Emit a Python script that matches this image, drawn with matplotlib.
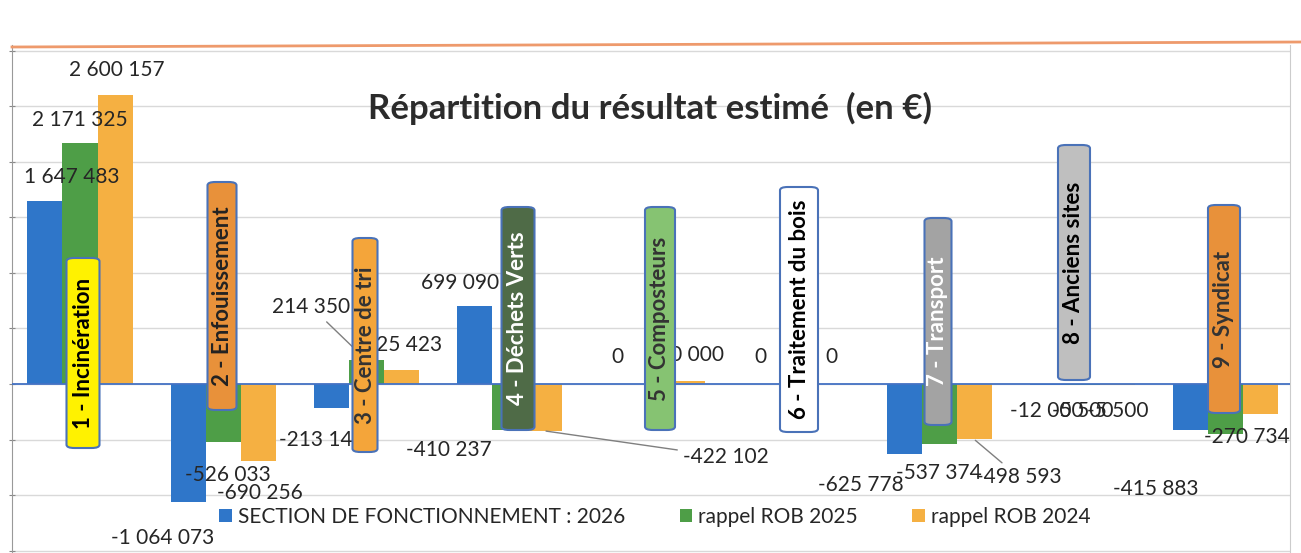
import matplotlib
matplotlib.use("Agg")
import matplotlib.pyplot as plt
import numpy as np
from matplotlib.patches import FancyBboxPatch
from matplotlib.lines import Line2D

plt.rcParams['font.family'] = ['Lato', 'DejaVu Sans']

categories = ["1 - Incinération", "2 - Enfouissement", "3 - Centre de tri",
              "4 - Déchets Verts", "5 - Composteurs", "6 - Traitement du bois",
              "7 - Transport", "8 - Anciens sites", "9 - Syndicat"]
series_names = ["SECTION DE FONCTIONNEMENT : 2026", "rappel ROB 2025", "rappel ROB 2024"]
val_2026 = [1647483, -1064073, -213140, 699090, 0, 0, -625778, -12000, -415883]
val_2025 = [2171325, -526033, 214350, -410237, 0, 0, -537374, -5500, -450000]
val_2024 = [2600157, -690256, 125423, -422102, 30000, 0, -498593, -5500, -270734]

colors = ["#2F76C9", "#4E9E47", "#F5B042"]

# label offsets in pixels (dx, dy), None = no label
off_2026 = [(27, 24), (-26, -36), (-9, -32), (-14, 23), (0, 27), (0, 27), (-43, -31), (0, -26), (-35, -59)]
off_2025 = [(0, 23), (5, -33), (-55, 53), (-61, -20), (0, 27), (0, 27), (0, -29), (0, -26), None]
off_2024 = [(2, 25), (2, -32), (2, 25), (181, -26), (3, 26), (0, 27), (45, -38), (0, -26), (-14, -23)]
leaders = {(2, 1), (3, 2), (6, 2)}

# category boxes (pixel layout)
box_x = [83, 222, 365, 518, 660, 799, 938, 1074, 1224]
box_top = [258, 182, 238, 207, 207, 187, 218, 145, 205]
box_bot = [448, 410, 452, 430, 430, 432, 425, 380, 413]
box_w = [33, 29, 25, 33, 30, 38, 27, 32, 32]
box_fc = ['#FFF200', '#E8913A', '#F4A53A', '#4F6B47', '#86C372', '#FFFFFF', '#A3A3A3', '#BFBFBF', '#E8913A']
box_tc = ['black', '#222222', '#333333', 'white', '#333333', 'black', 'white', 'black', '#333333']

W, H = 1301, 553
fig = plt.figure(figsize=(W / 100, H / 100), dpi=100)
ax = fig.add_axes([12 / W, 0, (1290 - 12) / W, (553 - 45) / H])

x = np.arange(len(categories))
bw = 0.245
series = [val_2026, val_2025, val_2024]
offsets = [off_2026, off_2025, off_2024]
bars = []
for j, vals in enumerate(series):
    b = ax.bar(x + (j - 1) * bw, vals, bw, color=colors[j], label=series_names[j], zorder=2)
    bars.append(b)
    for i, v in enumerate(vals):
        off = offsets[j][i]
        if off is None:
            continue
        txt = f"{v:,}".replace(",", " ")
        kw = {}
        if (i, j) in leaders:
            kw['arrowprops'] = dict(arrowstyle='-', color='#7F7F7F', lw=1, shrinkA=2, shrinkB=1)
        ax.annotate(txt, (x[i] + (j - 1) * bw, v), xytext=off, textcoords='offset pixels',
                    ha='center', va='center', fontsize=15, color='#262626', zorder=4, **kw)

ax.set_xlim(-0.475, 8.45)
ax.set_ylim(-1521000, 3051000)
ax.set_yticks(np.arange(-1500000, 3000001, 500000))
ax.set_yticklabels([])
ax.set_xticks([])
ax.grid(axis='y', color='#D9D9D9', lw=1, zorder=0)
ax.axhline(0, color='#4472C4', lw=1.3, zorder=3)
ax.tick_params(axis='y', length=4, direction='inout', color='#888888')
for s in ['top', 'bottom']:
    ax.spines[s].set_visible(False)
ax.spines['left'].set_color('#999999')
ax.spines['right'].set_color('#CCCCCC')

# category boxes
for i, name in enumerate(categories):
    x0 = (box_x[i] - box_w[i] / 2) / W
    y0 = 1 - box_bot[i] / H
    patch = FancyBboxPatch((x0, y0), box_w[i] / W, (box_bot[i] - box_top[i]) / H,
                           boxstyle="round,pad=0,rounding_size=0.006",
                           transform=fig.transFigure, fc=box_fc[i], ec='#4A72B8', lw=1.5, zorder=5)
    fig.add_artist(patch)
    fig.text(box_x[i] / W, 1 - (box_top[i] + box_bot[i]) / 2 / H, name, rotation=90,
             ha='center', va='center', fontsize=16, fontweight='bold', color=box_tc[i], zorder=6)

fig.text(650 / W, 1 - 108 / H, "Répartition du résultat estimé  (en €)", ha='center', va='center',
         fontsize=25, fontweight='bold', color='#2B2B2B')

# top orange rule
fig.add_artist(Line2D([12 / W, 1], [1 - 47 / H, 1 - 42 / H], transform=fig.transFigure,
                      color='#EE9A6C', lw=2))

fig.legend(handles=bars, loc='center', bbox_to_anchor=(655 / W, 1 - 517 / H), ncol=3,
           frameon=False, fontsize=15, handlelength=0.6, handleheight=0.6,
           handletextpad=0.3, columnspacing=2.6, labelcolor='#262626')

fig.savefig("out.png", dpi=100)
